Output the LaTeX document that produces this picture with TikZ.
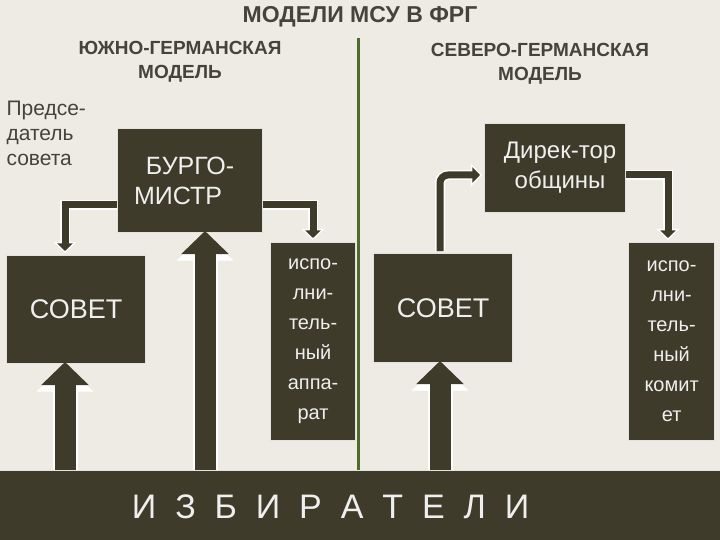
\documentclass[tikz,border=0pt]{standalone}
\usepackage{fontspec}
\setmainfont{Liberation Sans}
\usetikzlibrary{arrows.meta,calc}
\definecolor{bg}{HTML}{EDEBE3}
\definecolor{ol}{HTML}{3E3B2B}
\definecolor{tx}{HTML}{45443A}
\definecolor{gl}{HTML}{4D6B2A}
\tikzset{x=1pt,y=-1pt,
 box/.style={draw=white!85!ol,line width=1.2pt,fill=ol,text=white!92!ol,inner sep=0pt,align=center},
 arr/.style={line width=#1, draw=ol, -{Triangle[length=1.1*#1,width=2.2*#1]}},
 arrw/.style={line width=#1, draw=white, -{Triangle[length=1.1*#1,width=2.2*#1]}},
 hd/.style={text=tx,font=\bfseries\fontsize{19}{24}\selectfont,align=center}}
\begin{document}
\begin{tikzpicture}
\fill[bg] (0,0) rectangle (720,540);
\useasboundingbox (0,0) rectangle (720,540);
\node[hd,font=\bfseries\fontsize{23}{24}\selectfont] (title) at (360,17) {МОДЕЛИ МСУ В ФРГ};
\node[hd] (sm) at (180,62) {ЮЖНО-ГЕРМАНСКАЯ\\МОДЕЛЬ};
\node[hd] (nm) at (540,64) {СЕВЕРО-ГЕРМАНСКАЯ\\МОДЕЛЬ};
\coordinate (gt) at (358,38);
\coordinate (gb) at (358,470);
\draw[gl,line width=3pt] (gt) -- (gb);
\node[text=tx,font=\fontsize{21}{25}\selectfont,align=left,anchor=north west] (ps) at (3,98) {Предсе-\\датель\\совета};
\node[box,minimum width=145,minimum height=104,anchor=north west,font=\fontsize{25}{30}\selectfont] (bm) at (117,128) {БУРГО-\\МИСТР\hspace*{24pt}};
\node[box,minimum width=139,minimum height=108,anchor=north west,font=\fontsize{27}{30}\selectfont] (s1) at (6,255) {СОВЕТ};
\node[box,minimum width=85,minimum height=198,anchor=north west,font=\fontsize{20}{30}\selectfont] (ea) at (270,242) {испо-\\лни-\\тель-\\ный\\аппа-\\рат};
\node[box,minimum width=139,minimum height=109,anchor=north west,font=\fontsize{27}{30}\selectfont] (s2) at (373,253) {СОВЕТ};
\node[box,minimum width=141,minimum height=89,anchor=north west,font=\fontsize{24}{30}\selectfont] (dir) at (484,123) {\hspace*{10pt}Дирек-тор\\\hspace*{10pt}общины};
\node[box,minimum width=86,minimum height=198,anchor=north west,font=\fontsize{20}{30}\selectfont] (ek) at (628,242) {испо-\\лни-\\тель-\\ный\\комит\\ет};
\node[box,minimum width=722,minimum height=72,anchor=north west,font=\fontsize{34}{36}\selectfont] (iz) at (-1,470) {И\ \ З\ \ Б\ \ И\ \ Р\ \ А\ \ Т\ \ Е\ \ Л\ \ И\hspace*{60pt}};
% bent arrows
\draw[arrw=10pt] (bm.west |- 0,205) -- (65,205) -- (65,253);
\draw[arrw=10pt] (bm.east |- 0,205) -- (313,205) -- (313,240);
\draw[arrw=10pt,rounded corners=8pt] (440,251) -- (440,175) -- (482,175);
\draw[arrw=10pt] (dir.east |- 0,175) -- (668,175) -- (668,240);
\draw[arr=7pt] (bm.west |- 0,205) -- (65,205) -- (65,251);
\draw[arr=7pt] (bm.east |- 0,205) -- (313,205) -- (313,238);
\draw[arr=7pt,rounded corners=8pt] (440,251) -- (440,175) -- (480,175);
\draw[arr=7pt] (dir.east |- 0,175) -- (668,175) -- (668,238);
% up arrows
\draw[arrw=25pt] (iz.north -| 65,0) -- (65,364);
\draw[arrw=25pt] (iz.north -| 205,0) -- (205,233);
\draw[arrw=25pt] (iz.north -| 440,0) -- (440,363);
\draw[arr=21pt] (iz.north -| 65,0) -- (65,362);
\draw[arr=21pt] (iz.north -| 205,0) -- (205,231);
\draw[arr=21pt] (iz.north -| 440,0) -- (440,361);
\end{tikzpicture}
\end{document}
